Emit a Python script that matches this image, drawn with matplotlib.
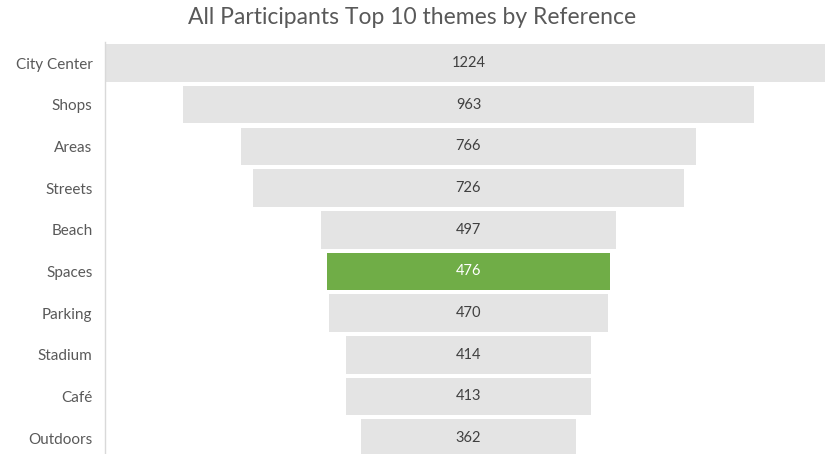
import matplotlib
matplotlib.use("Agg")
import matplotlib.pyplot as plt

categories = ["City Center", "Shops", "Areas", "Streets", "Beach",
              "Spaces", "Parking", "Stadium", "Café", "Outdoors"]
values = [1224, 963, 766, 726, 497, 476, 470, 414, 413, 362]
highlight = "Spaces"

plt.rcParams["font.family"] = ["Lato", "DejaVu Sans"]

W, H = 825, 454
fig = plt.figure(figsize=(W / 100, H / 100), dpi=100)
# the widest bar runs slightly past the right edge of the canvas
ax = fig.add_axes([105 / W, 0, 727 / W, (H - 42) / H])

vmax = max(values)
grey = "#e4e4e4"
green = "#70ad47"
for i, (cat, v) in enumerate(zip(categories, values)):
    left = (vmax - v) / 2
    col = green if cat == highlight else grey
    ax.barh(i, v, left=left, height=0.9, color=col, edgecolor="none")
    ax.text(vmax / 2, i, f"{v}", ha="center", va="center", fontsize=10.5,
            color="white" if cat == highlight else "#404040")

ax.set_xlim(0, vmax)
ax.set_ylim(9.38, -0.504)
ax.set_yticks(range(len(categories)))
ax.set_yticklabels(categories, fontsize=11, color="#595959")
ax.tick_params(axis="y", length=0, pad=9)
ax.set_xticks([])
for s in ["top", "right", "bottom"]:
    ax.spines[s].set_visible(False)
ax.spines["left"].set_color("#d9d9d9")
ax.spines["left"].set_linewidth(1.0)

fig.text(412 / W, 1 - 18 / H, "All Participants Top 10 themes by Reference",
         ha="center", va="center", fontsize=16.5, color="#595959")

fig.savefig("out.png", dpi=100, facecolor="white")
